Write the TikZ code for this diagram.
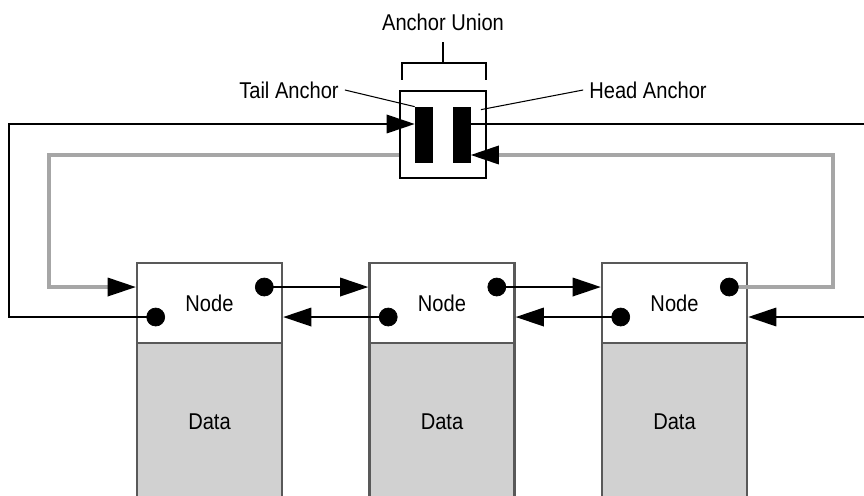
\documentclass[tikz,border=0pt]{standalone}
\usepackage{fontspec}
\setmainfont{Liberation Sans}[FakeStretch=0.88]
\usetikzlibrary{arrows.meta}
\usetikzlibrary{calc}
\usetikzlibrary{positioning}

\begin{document}
\begin{tikzpicture}[
		x=0.02cm, y=-0.02cm,
		font=\fontsize{13pt}{15pt}\selectfont,
		> = {Triangle[length=0.56cm,width=0.38cm,color=black,line width=0pt]},
		link/.style = {draw=black, line width=0.8pt},
		glink/.style = {draw=black!35, line width=1.8pt},
		leader/.style = {draw=black, line width=0.6pt},
		nodebox/.style = {draw=black!65, line width=1.5pt, fill=white, minimum width=2.9cm, minimum height=1.6cm, inner sep=0pt},
		databox/.style = {draw=black!65, line width=1.5pt, fill=black!18, minimum width=2.9cm, minimum height=3.14cm, inner sep=0pt},
		dot/.style = {draw,fill,circle,inner sep=0pt,minimum size=0.36cm},
		bar/.style = {fill=black, minimum width=0.36cm, minimum height=1.12cm, inner sep=0pt},
		unionbox/.style = {draw=black, line width=1.1pt, fill=white, minimum width=1.72cm, minimum height=1.74cm, inner sep=0pt}
		]

	\useasboundingbox (0,0) rectangle (864,496);
	\clip (0,0) rectangle (864,496);

	% list entries
	\foreach \i/\x in {1/209.5, 2/442, 3/674.5} {
		\node[databox] (d\i) at (\x,421.5) {Data};
		\node[nodebox, above=-1.5pt of d\i] (n\i) {Node};
		\coordinate (nx\i) at ($(n\i.east)+(-19,-16)$);
		\coordinate (pv\i) at ($(n\i.west)+(20,14)$);
	}

	% anchor union
	\node[unionbox] (union) at (443,134.5) {};
	\node[bar] (tail) at (424,135) {};
	\node[bar] (head) at (461.5,135) {};

	\node (lunion) at (443,22) {Anchor Union};
	\node (ltail) at (289,90) {Tail Anchor};
	\node (lhead) at (648,90) {Head Anchor};

	\coordinate (bl) at (402,80);
	\coordinate (br) at (486,80);
	\coordinate (bm) at (443,63);
	\coordinate (bt) at (443,42);
	\draw[link] (bl) |- (bm) -| (br);
	\draw[link] (bm) -- (bt);

	\draw[leader] (ltail.east) -- (tail.north west);
	\draw[leader] (lhead.west) -- ($(head.north east)+(10,3)$);

	% connectors
	\coordinate (ltop) at (9,124);
	\coordinate (rtop) at (870,124);
	\coordinate (rbot) at (870,317);
	\coordinate (lgray) at (49,155);
	\coordinate (rgray) at (833,155);

	\draw[link,->] (pv1) -| (ltop) -- (ltop -| tail.west);
	\draw[link] (head.east |- ltop) -- (rtop);
	\draw[link,->] (rbot) -- (rbot -| n3.east);
	\draw[glink,->] (nx3) -| (rgray) -- (rgray -| head.east);
	\draw[glink,->] (lgray -| union.west) -- (lgray) |- (n1.west |- nx1);
	\foreach \i/\j in {1/2, 2/3} {
		\draw[link,->] (nx\i) -- (nx\i -| n\j.west);
		\draw[link,->] (pv\j) -- (pv\j -| n\i.east);
	}

	% pointer dots
	\foreach \i in {1,2,3} {
		\node[dot] (dnx\i) at (nx\i) {};
		\node[dot] (dpv\i) at (pv\i) {};
	}
\end{tikzpicture}
\end{document}
